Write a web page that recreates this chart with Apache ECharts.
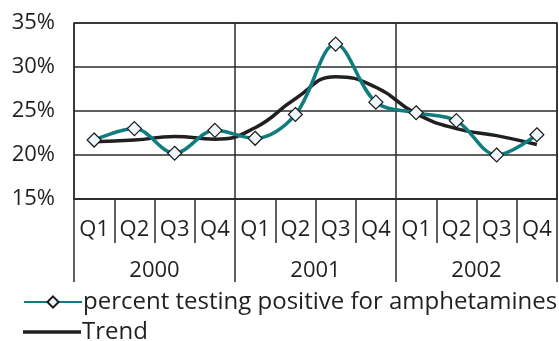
<!DOCTYPE html>
<html>
<head>
<meta charset="utf-8">
<script src="https://cdn.jsdelivr.net/npm/echarts@6/dist/echarts.min.js"></script>
<style>
  html, body { margin: 0; padding: 0; background: #fff; }
  #chart { width: 559px; height: 341px; }
</style>
</head>
<body>
<div id="chart"></div>
<script>
// Quarterly amphetamine positivity with its smoothed trend
const quarters = ['Q1','Q2','Q3','Q4','Q1','Q2','Q3','Q4','Q1','Q2','Q3','Q4'];
const years = ['2000', '2001', '2002'];
const percentPositive = [21.7, 23.0, 20.2, 22.8, 21.9, 24.6, 32.6, 26.0, 24.8, 23.9, 20.0, 22.3];
const trend = [21.5, 21.7, 22.1, 21.8, 23.1, 26.4, 28.9, 27.7, 24.7, 23.0, 22.2, 21.2];
const yTicks = { min: 15, max: 35, step: 5 };

const FONT = '"Open Sans", "Noto Sans", sans-serif';
const TEXT = '#231f20';
const GRID = '#2b2b2b';
const TEAL = '#0f7d80';
const TREND = '#231f20';
const SERIES_NAME = 'percent testing positive for amphetamines';

const chart = echarts.init(document.getElementById('chart'), null, { renderer: 'canvas' });

const legendText = { fontFamily: FONT, fontSize: 24, color: TEXT, padding: [0, 0, 0, -4] };

chart.setOption({
  animation: false,
  grid: {
    left: 74, right: 2, top: 23, bottom: 142,
    show: true, borderColor: GRID, borderWidth: 1.5
  },
  legend: [
    {
      left: 18, top: 285,
      itemWidth: 58, itemHeight: 14,
      textStyle: legendText,
      data: [SERIES_NAME]
    },
    {
      left: 18, top: 315,
      itemWidth: 58, itemHeight: 3.5,
      textStyle: legendText,
      data: [{ name: 'Trend', icon: 'rect' }]
    }
  ],
  xAxis: [
    {
      type: 'category',
      data: quarters,
      position: 'bottom',
      boundaryGap: true,
      axisLine: { show: true, lineStyle: { color: GRID, width: 1.5 } },
      axisTick: { show: true, interval: 0, length: 44, lineStyle: { color: GRID, width: 1.5 } },
      axisLabel: { interval: 0, margin: 20, fontFamily: FONT, fontSize: 22, color: TEXT },
      splitLine: { show: false }
    },
    {
      type: 'category',
      data: years,
      position: 'bottom',
      boundaryGap: true,
      axisLine: { show: false },
      axisTick: { show: true, interval: 0, length: 83, lineStyle: { color: GRID, width: 1.5 } },
      axisLabel: { interval: 0, margin: 61, fontFamily: FONT, fontSize: 22, color: TEXT },
      splitLine: { show: true, interval: 0, lineStyle: { color: GRID, width: 1.5 } }
    }
  ],
  yAxis: {
    type: 'value',
    min: yTicks.min, max: yTicks.max, interval: yTicks.step,
    axisLine: { show: false },
    axisTick: { show: false },
    axisLabel: { formatter: '{value}%', margin: 19, fontFamily: FONT, fontSize: 22, color: TEXT },
    splitLine: { show: true, lineStyle: { color: GRID, width: 1.5 } }
  },
  series: [
    {
      name: SERIES_NAME,
      type: 'line',
      xAxisIndex: 0,
      data: percentPositive,
      smooth: 0.35,
      symbol: 'diamond',
      symbolSize: 14,
      showAllSymbol: true,
      lineStyle: { color: TEAL, width: 3.5 },
      itemStyle: { color: '#eef6fb', borderColor: '#1a1a1a', borderWidth: 1.2 },
      z: 3
    },
    {
      name: 'Trend',
      type: 'line',
      xAxisIndex: 0,
      data: trend,
      smooth: 0.5,
      symbol: 'none',
      lineStyle: { color: TREND, width: 3.5 },
      itemStyle: { color: TREND },
      z: 2
    }
  ]
});
</script>
</body>
</html>
